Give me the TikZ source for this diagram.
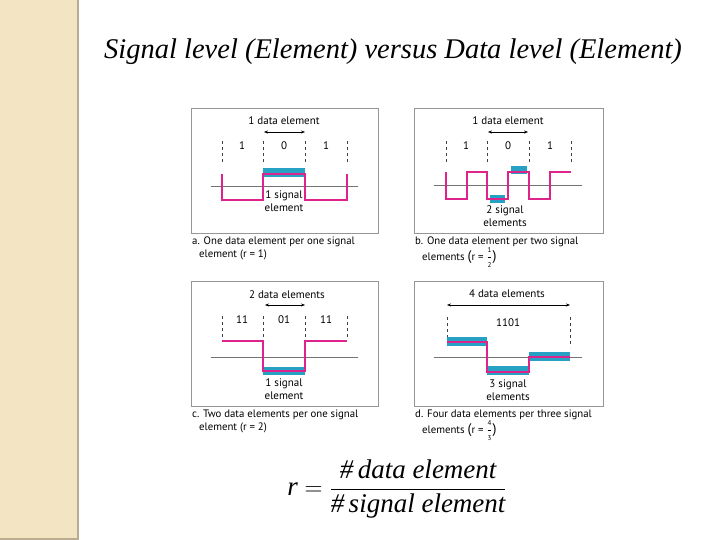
\documentclass[tikz,border=0pt]{standalone}
\usepackage{amsmath}
\usepackage{fontspec}
\setmainfont{Liberation Serif}
\newfontfamily\figfont{PT Sans}
\usepackage{tikz}
\usetikzlibrary{arrows.meta,positioning,patterns}
\definecolor{stripe}{RGB}{244,229,190}
\definecolor{stripeedge}{RGB}{185,172,145}
\definecolor{sigpink}{RGB}{222,36,140}
\definecolor{elemteal}{RGB}{38,160,195}
\definecolor{boxgray}{RGB}{150,150,150}
\newcommand{\bigpar}[1]{{\fontsize{14}{14}\selectfont #1}}
\newcommand{\smallfrac}[2]{$\dfrac{\text{\fontsize{7}{7}\selectfont #1}}{\text{\fontsize{7}{7}\selectfont #2}}$}

\begin{document}
\begin{tikzpicture}[x=1pt, y=-1pt,
    panel/.style={draw=boxgray, line width=1pt, fill=white},
    lbl/.style={font=\figfont\fontsize{11}{13}\selectfont, inner sep=0pt, align=center},
    caption/.style={font=\figfont\fontsize{10.8}{13}\selectfont, anchor=north west, inner sep=0pt},
    bits/.style={font=\figfont\fontsize{11}{13}\selectfont, inner sep=0pt},
    tick/.style={dash pattern=on 3pt off 3pt, line width=0.9pt, black!75},
    span/.style={{Stealth[length=4pt,width=3pt]}-{Stealth[length=4pt,width=3pt]}, line width=0.5pt},
    axis/.style={line width=1pt, black!55},
    wave/.style={line width=1.7pt, sigpink},
    elem/.style={fill=elemteal, draw=none},
    >=Stealth
]
    \useasboundingbox (0,0) rectangle (720,540);
    % side stripe
    \fill[stripe] (0,0) rectangle (78,540);
    \fill[pattern=crosshatch dots, pattern color=stripeedge!30] (0,0) rectangle (78,540);
    \draw[stripeedge, line width=2pt] (78,0) -- (78,540);
    \draw[stripeedge, line width=1.5pt] (0,539) -- (78,539);

    % title
    \node[font=\itshape\fontsize{28.5}{32}\selectfont] (title) at (393,52) {Signal level (Element) versus Data level (Element)};

    % a. r = 1
    \draw[panel] (191,109) rectangle (378,233);
    \node[lbl] (dela) at (284,121) {1 data element};
    \coordinate (aL) at (264,132);
    \coordinate (aR) at (305,132);
    \draw[span] (aL) -- (aR);
    \foreach \x in {222,263,305,347}
        \draw[tick] (\x,141) -- (\x,162);
    \node[bits] (a1) at (242,146) {1};
    \node[bits] (a2) at (284,146) {0};
    \node[bits] (a3) at (326,146) {1};
    \draw[axis] (211,187) -- (358,187);
    \fill[elem] (263,168) rectangle (305,177);
    \draw[wave] (222,174) |- (263,200) |- (305,174) |- (347,200) -- (347,174);
    \node[lbl] (sela) at (284,201) {1 signal\\element};
    \node[caption] (capa) at (192,237) {a. One data element per one signal};
    \node[caption] (capa2) at (199,250) {element (r = 1)};

    % b. r = 1/2
    \draw[panel] (414,109) rectangle (603,233);
    \node[lbl] (delb) at (508,121) {1 data element};
    \coordinate (bL) at (488,132);
    \coordinate (bR) at (528,132);
    \draw[span] (bL) -- (bR);
    \foreach \x in {446,487,529,571}
        \draw[tick] (\x,141) -- (\x,162);
    \node[bits] (b1) at (466,146) {1};
    \node[bits] (b2) at (508,146) {0};
    \node[bits] (b3) at (550,146) {1};
    \draw[axis] (434,186) -- (582,186);
    \fill[elem] (490,195) rectangle (505,203);
    \fill[elem] (511,166) rectangle (527,174);
    \draw[wave] (446,172) |- (467,199) |- (487,172) |- (508,199) |- (529,172) |- (550,199) |- (571,172);
    \node[lbl] (selb) at (505,216) {2 signal\\elements};
    \node[caption] (capb) at (415,237) {b. One data element per two signal};
    \node[caption, anchor=base west] (capb2) at (422,260) {elements \bigpar{(}r = \smallfrac{1}{2}\bigpar{)}};

    % c. r = 2
    \draw[panel] (191,281) rectangle (378,406);
    \node[lbl] (delc) at (287,295) {2 data elements};
    \coordinate (cL) at (265,305);
    \coordinate (cR) at (305,305);
    \draw[span] (cL) -- (cR);
    \foreach \x in {222,263,305,347}
        \draw[tick] (\x,316) -- (\x,338);
    \node[bits] (c1) at (242,320) {11};
    \node[bits] (c2) at (284,320) {01};
    \node[bits] (c3) at (326,320) {11};
    \draw[axis] (211,357) -- (358,357);
    \fill[elem] (263,367) rectangle (305,375);
    \draw[wave] (222,341) -| (263,371) -| (305,341) -- (347,341);
    \node[lbl] (selc) at (284,389) {1 signal\\element};
    \node[caption] (capc) at (192,410) {c. Two data elements per one signal};
    \node[caption] (capc2) at (199,423) {element (r = 2)};

    % d. r = 4/3
    \draw[panel] (414,281) rectangle (603,406);
    \node[lbl] (deld) at (507,294) {4 data elements};
    \coordinate (dL) at (447,305);
    \coordinate (dR) at (570,305);
    \draw[span] (dL) -- (dR);
    \foreach \x in {447,570}
        \draw[tick] (\x,317) -- (\x,347);
    \node[bits] (d1) at (508,323) {1101};
    \draw[axis] (434,357) -- (582,357);
    \fill[elem] (447,337) rectangle (487,346);
    \fill[elem] (487,366) rectangle (529,375);
    \fill[elem] (529,352) rectangle (570,361);
    \draw[wave] (447,342) -| (487,372) -| (529,357) -- (570,357);
    \node[lbl] (seld) at (508,390) {3 signal\\elements};
    \node[caption] (capd) at (415,410) {d. Four data elements per three signal};
    \node[caption, anchor=base west] (capd2) at (422,433) {elements \bigpar{(}r = \smallfrac{4}{3}\bigpar{)}};

    % ratio
    \node[font=\fontsize{27}{32}\selectfont] (ratio) at (397,489)
        {$\text{\itshape r} = \dfrac{\text{\itshape\#\,data element}}{\text{\itshape\#\,signal element}}$};
\end{tikzpicture}
\end{document}
